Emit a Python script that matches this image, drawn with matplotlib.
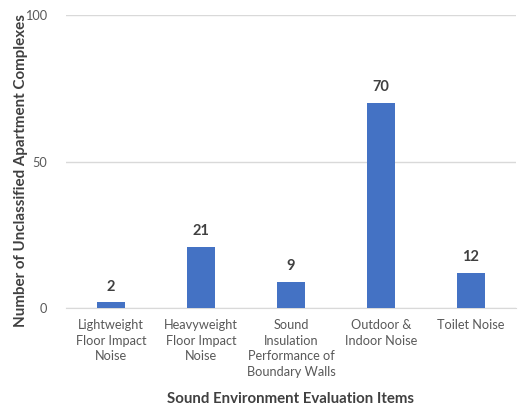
import matplotlib.pyplot as plt

categories = ['Lightweight\nFloor Impact\nNoise', 'Heavyweight\nFloor Impact\nNoise',
              'Sound\nInsulation\nPerformance of\nBoundary Walls',
              'Outdoor &\nIndoor Noise', 'Toilet Noise']
counts = [2, 21, 9, 70, 12]
yticks = [0, 50, 100]

plt.rcParams['font.family'] = ['Lato', 'DejaVu Sans']

fig = plt.figure(figsize=(5.21, 4.12), dpi=100)
ax = fig.add_axes([0.127, 0.252, 0.863, 0.712])

x = range(len(categories))
bars = ax.bar(x, counts, width=0.31, color='#4472C4', zorder=3)
for b, v in zip(bars, counts):
    ax.text(b.get_x() + b.get_width() / 2, v + 3, str(v), ha='center', va='bottom',
            fontsize=10.5, fontweight='bold', color='#404040')

ax.set_xlim(-0.5, 4.5)
ax.set_ylim(0, 100)
ax.set_yticks(yticks)
ax.yaxis.grid(True, color='#d9d9d9', linewidth=1, zorder=0)
ax.set_xticks(list(x))
ax.set_xticklabels(categories, fontsize=9.2, color='#595959', linespacing=1.35)
ax.tick_params(axis='both', length=0, pad=8)
ax.tick_params(axis='y', labelsize=9.2, labelcolor='#595959', pad=14)
for s in ['top', 'right', 'left']:
    ax.spines[s].set_visible(False)
ax.spines['bottom'].set_color('#d9d9d9')

ax.set_ylabel('Number of Unclassified Apartment Complexes', fontsize=10.9,
              fontweight='bold', color='#404040')
ax.yaxis.set_label_coords(-0.085, 0.47)
ax.set_xlabel('Sound Environment Evaluation Items', fontsize=10.8,
              fontweight='bold', color='#404040', labelpad=10)

fig.savefig('out.png', dpi=100)
